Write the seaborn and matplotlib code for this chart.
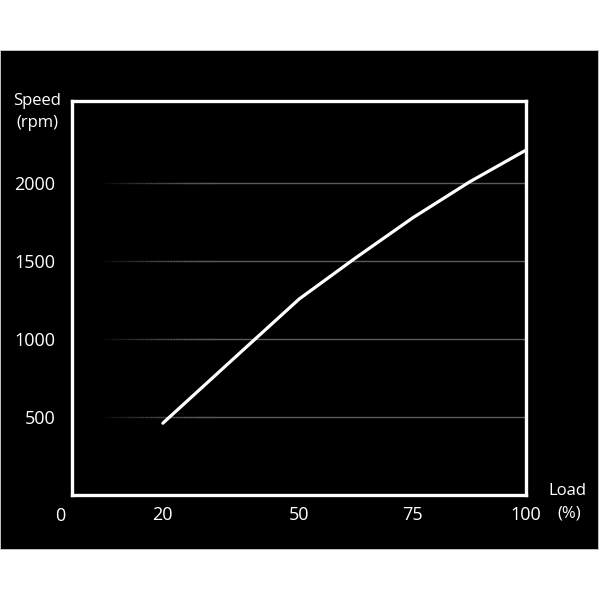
import numpy as np
import pandas as pd
import matplotlib
matplotlib.use("Agg")
import matplotlib.pyplot as plt
import seaborn as sns
from matplotlib.patches import Rectangle

# values
load_pct = [20, 35, 50, 62.5, 75, 87.5, 100]
speed_rpm = [460, 858, 1255, 1520, 1775, 2005, 2210]
x_ticks = [20, 50, 75, 100]
y_ticks = [500, 1000, 1500, 2000]

df = pd.DataFrame({"load": load_pct, "speed": speed_rpm})

sns.set_style("dark")
plt.rcParams['font.family'] = ['Open Sans', 'DejaVu Sans']

fig = plt.figure(figsize=(6, 6), dpi=100)
fig.patch.set_facecolor("white")
# black panel behind the chart
fig.patches.append(Rectangle((0, 51 / 600), 598 / 600, 499 / 600,
                             transform=fig.transFigure, facecolor="black",
                             edgecolor="#cccccc", linewidth=0.6, zorder=-5))

ax = fig.add_axes([0.12, 0.175, 0.757, 0.657])
ax.set_zorder(2)
ax.set_facecolor("black")

sns.lineplot(data=df, x="load", y="speed", ax=ax, color="white",
             linewidth=2.3, zorder=3)

ax.set_xlim(0, 100)
ax.set_ylim(0, 2525)

# gridlines that fade in from the left
n = 40
for y in y_ticks:
    for i in range(n):
        a0 = 0.06 + i * 0.25 / n
        a1 = a0 + 0.25 / n
        ax.axhline(y, xmin=a0, xmax=a1 + 0.002, color="#5a5a5a",
                   alpha=min(1.0, (i + 1) / n), linewidth=1.0, zorder=1)
    ax.axhline(y, xmin=0.31, xmax=1.0, color="#5a5a5a", linewidth=1.0, zorder=1)

for s in ax.spines.values():
    s.set_color("white")
    s.set_linewidth(2.4)
    s.set_visible(True)

ax.set_xticks(x_ticks)
ax.set_yticks(y_ticks)
ax.set_xticklabels([str(t) for t in x_ticks])
ax.set_yticklabels([str(t) for t in y_ticks])
ax.tick_params(axis="x", direction="in", length=5, width=1, color="white",
               labelcolor="white", labelsize=13, pad=8)
ax.tick_params(axis="y", length=0, labelcolor="white", labelsize=13, pad=12)
ax.set_xlabel("")
ax.set_ylabel("")
ax.grid(False)

# extra labels around the axes
fig.text(60 / 600, 1 - 516 / 600, "0", color="white", fontsize=13,
         ha="center", va="center", zorder=3)
fig.text(37 / 600, 1 - 101 / 600, "Speed", color="white", fontsize=12,
         ha="center", va="center", zorder=3)
fig.text(37 / 600, 1 - 123 / 600, "(rpm)", color="white", fontsize=12,
         ha="center", va="center", zorder=3)
fig.text(567 / 600, 1 - 491 / 600, "Load", color="white", fontsize=12,
         ha="center", va="center", zorder=3)
fig.text(569 / 600, 1 - 514 / 600, "(%)", color="white", fontsize=12,
         ha="center", va="center", zorder=3)

fig.savefig("out.png", dpi=100, facecolor="white")
